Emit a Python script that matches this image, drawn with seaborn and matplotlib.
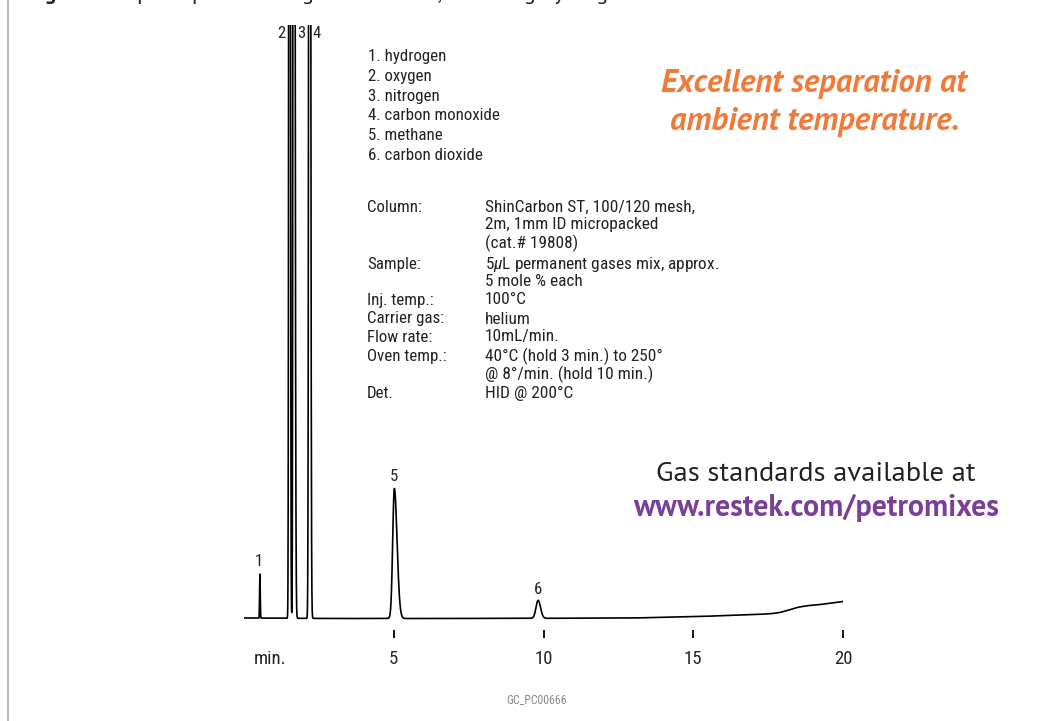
import numpy as np
import pandas as pd
import matplotlib
matplotlib.use("Agg")
import matplotlib.pyplot as plt
from matplotlib.lines import Line2D
import seaborn as sns

# ---- chromatogram data -------------------------------------------------
peak_ids = ["1", "2", "3", "4", "5", "6"]
peak_names = ["hydrogen", "oxygen", "nitrogen", "carbon monoxide", "methane", "carbon dioxide"]
retention_min = [0.53, 1.52, 1.66, 2.19, 5.02, 9.82]
peak_height = [44, 2600, 2400, 2200, 130, 18]
peak_sigma_lead = [0.010, 0.018, 0.018, 0.022, 0.055, 0.070]
peak_sigma_tail = [0.012, 0.020, 0.030, 0.026, 0.090, 0.080]

# detector baseline (drift during the temperature ramp)
baseline_t = [0, 3, 6, 10, 13, 15.2, 17.1, 17.6, 17.9, 18.2, 18.5, 18.8, 19.2, 20]
baseline_level = [0, -0.5, -0.5, -0.3, 0, 1.5, 3.5, 4.3, 5.5, 8, 10.8, 12.3, 13.3, 16.5]

tick_values = [5, 10, 15, 20]
tick_labels = ["5", "10", "15", "20"]

conditions = [
    ("Column:", "ShinCarbon ST, 100/120 mesh,"),
    ("", "2m, 1mm ID micropacked"),
    ("", "(cat.# 19808)"),
    ("Sample:", "5$\\mu$L permanent gases mix, approx."),
    ("", "5 mole % each"),
    ("Inj. temp.:", "100°C"),
    ("Carrier gas:", "helium"),
    ("Flow rate:", "10mL/min."),
    ("Oven temp.:", "40°C (hold 3 min.) to 250°"),
    ("", "@ 8°/min. (hold 10 min.)"),
    ("Det.", "HID @ 200°C"),
]

# ---- build detector trace ----------------------------------------------
t = np.linspace(0, 20, 8001)
signal = np.interp(t, baseline_t, baseline_level)
for rt, h, sl, st in zip(retention_min, peak_height, peak_sigma_lead, peak_sigma_tail):
    sig = np.where(t < rt, sl, st)
    signal = signal + h * np.exp(-0.5 * ((t - rt) / sig) ** 2)
trace = pd.DataFrame({"time": t, "signal": signal})

# ---- figure --------------------------------------------------------------
sns.set_theme(style="white")
cond_font = ["Roboto Condensed", "DejaVu Sans"]
sans_font = ["PT Sans", "DejaVu Sans"]
plt.rcParams["font.family"] = cond_font
plt.rcParams["mathtext.fontset"] = "custom"
plt.rcParams["mathtext.it"] = "Roboto Condensed:italic"
plt.rcParams["mathtext.rm"] = "Roboto Condensed"

W, H = 1037, 721
fig = plt.figure(figsize=(W / 100, H / 100), dpi=100, facecolor="white")

def fx(px):
    return px / W

def fy(py):
    return 1 - py / H

ax_left, ax_right = 244, 843
ax_top, ax_bottom = 25, 630
ax = fig.add_axes([fx(ax_left), fy(ax_bottom), (ax_right - ax_left) / W, (ax_bottom - ax_top) / H])
sns.lineplot(data=trace, x="time", y="signal", ax=ax, color="black", linewidth=1.2,
             estimator=None, sort=False)
ax.set_xlim(0, 20)
ax.set_ylim(-12, 593)
for s in ax.spines.values():
    s.set_visible(False)
ax.set_yticks([])
ax.set_xlabel("")
ax.set_ylabel("")
ax.set_facecolor("white")

ax.set_xticks([0.87] + tick_values)
ax.set_xticklabels(["min."] + tick_labels, fontsize=13.5, color="#222222")
ax.tick_params(axis="x", direction="out", length=5.5, width=1.3, color="black",
               pad=9, bottom=True)
ax.xaxis.get_major_ticks()[0].tick1line.set_visible(False)

# peak numbers
label_pos = {
    "1": (0.50, 57),
    "2": (1.24, 585),
    "3": (1.90, 585),
    "4": (2.44, 585),
    "5": (5.00, 141),
    "6": (9.82, 28),
}
for pid in peak_ids:
    x, y = label_pos[pid]
    ax.text(x, y, pid, ha="center", va="center", fontsize=12, color="#222222")

# peak list
for i, (pid, name) in enumerate(zip(peak_ids, peak_names)):
    fig.text(fx(368), fy(56 + 20 * i), f"{pid}. {name}", ha="left", va="center",
             fontsize=12.2, color="#222222")

# instrument conditions
cond_y = [207, 225, 243, 264, 281, 300, 319, 337, 356, 374, 393]
for (lab, val), yy in zip(conditions, cond_y):
    if lab:
        fig.text(fx(367), fy(yy), lab, ha="left", va="center", fontsize=12.2, color="#222222")
    fig.text(fx(485), fy(yy), val, ha="left", va="center", fontsize=12.4, color="#222222")

# call-outs
fig.text(fx(814), fy(84), "Excellent separation at", ha="center", va="center",
         fontsize=23.5, fontweight="bold", fontstyle="italic", color="#F07A3A",
         family=sans_font)
fig.text(fx(815), fy(122), "ambient temperature.", ha="center", va="center",
         fontsize=23.5, fontweight="bold", fontstyle="italic", color="#F07A3A",
         family=sans_font)
fig.text(fx(816), fy(474), "Gas standards available at", ha="center", va="center",
         fontsize=20.5, color="#222222", family=sans_font)
fig.text(fx(816), fy(508), "www.restek.com/petromixes", ha="center", va="center",
         fontsize=21.5, fontweight="bold", color="#7B3F98", family=sans_font)

fig.text(fx(537), fy(700), "GC_PC00666", ha="center", va="center", fontsize=8.5,
         color="#8a8a8a")

# figure caption running off the top edge
fig.text(fx(28), fy(-0.5), "Figure", ha="left", va="baseline", fontsize=16,
         fontweight="bold", color="#222222", family=sans_font)
fig.text(fx(95), fy(-0.5), "Complete permanent gas resolution, including hydrogen.",
         ha="left", va="baseline", fontsize=16, color="#222222", family=sans_font)

# page border
fig.add_artist(Line2D([fx(8), fx(8)], [0, 1], color="#bbbbbb", linewidth=1.5))

fig.savefig("out.png", dpi=100, facecolor="white")
